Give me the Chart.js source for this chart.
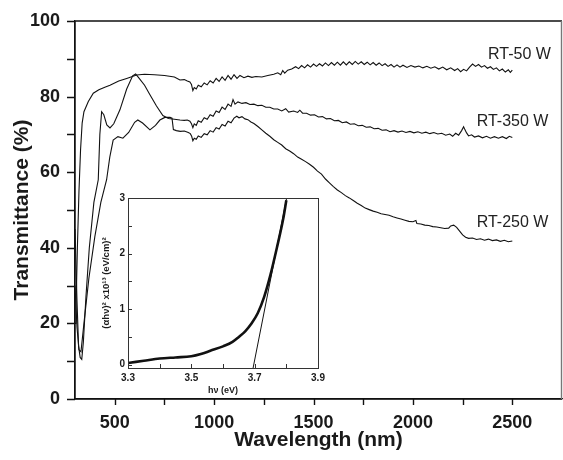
<!DOCTYPE html>
<html>
<head>
<meta charset="utf-8">
<script src="https://cdn.jsdelivr.net/npm/chart.js@4.4.1/dist/chart.umd.min.js"></script>
<style>
body { margin: 0; background: #fff; }
#wrap { position: relative; width: 563px; height: 460px; }
#wrap canvas { position: absolute; left: 0; top: 0; }
</style>
</head>
<body>
<div id="wrap">
<canvas id="main" width="563" height="460"></canvas>
<canvas id="inset" width="563" height="460"></canvas>
</div>
<script>
// [wavelength nm, transmittance %]
const rt50 = [
  [300,20],[305,24],[312,40],[320,55],[328,66],[336,73],[345,76],[367,78.7],[392,80.9],[420,81.8],
  [450,82.5],[476,83],[520,84.1],[560,84.8],[610,85.7],[650,85.9],[700,85.8],[750,85.6],[800,85.2],
  [828,84.4],[850,84.5],[865,84.1],[878,83.9],[886,83.2],[893,81.6],[900,82.4],[910,82.0],[920,83.0],
  [935,82.6],[950,83.6],[965,83.1],[980,84.2],[995,83.6],[1010,84.8],[1025,84.0],[1040,85.2],[1055,84.3],
  [1070,85.6],[1085,84.6],[1100,85.8],[1115,84.8],[1130,85.6],[1150,85.0],[1170,85.4],[1190,85.1],
  [1210,85.3],[1240,85.2],[1270,85.6],[1300,85.9],[1320,86.3],[1335,85.8],[1345,86.9],[1355,86.2],
  [1370,87.0],[1390,87.3],[1410,87.9],[1425,87.4],[1440,88.2],[1455,87.6],[1470,88.4],[1485,87.8],
  [1500,88.6],[1515,88.0],[1530,88.7],[1545,88.1],[1560,88.9],[1575,88.2],[1590,89.0],[1605,88.3],
  [1620,89.1],[1635,88.3],[1650,89.2],[1665,88.4],[1680,89.2],[1695,88.5],[1710,89.3],[1725,88.6],
  [1740,89.2],[1755,88.5],[1770,89.1],[1785,88.4],[1800,89.0],[1815,88.3],[1830,88.9],[1845,88.2],
  [1860,88.7],[1875,88.0],[1890,88.5],[1905,87.8],[1920,88.4],[1935,87.8],[1950,88.3],[1970,87.7],
  [1990,88.2],[2010,87.8],[2030,88.1],[2050,87.6],[2070,88.0],[2090,87.5],[2110,87.9],[2130,87.3],
  [2150,87.8],[2170,87.1],[2190,87.6],[2210,86.9],[2225,87.4],[2240,86.6],[2255,87.2],[2270,86.8],
  [2285,87.8],[2300,88.6],[2315,88.0],[2330,88.5],[2345,87.8],[2360,88.2],[2375,87.5],[2390,87.9],
  [2405,87.2],[2420,87.6],[2435,86.8],[2450,87.3],[2465,86.5],[2480,87.1],[2490,86.4],[2500,87.0]
];
const rt350 = [
  [300,45],[310,26],[318,14],[326,11],[334,10.5],[342,15],[355,27],[372,40],[395,52],[417,58],
  [425,70],[434,76],[445,75.2],[460,72.5],[476,71.7],[495,72.8],[526,76.5],[560,82],[590,85.5],
  [605,86],[620,85],[650,83],[677,80.5],[710,77.5],[742,75],[770,74.2],[800,74],[828,73.8],[850,73.7],
  [865,73.8],[878,73.5],[886,72.8],[893,71.8],[900,72.8],[910,72.4],[920,73.6],[935,73.2],[950,74.4],
  [965,74.0],[980,75.2],[995,74.8],[1010,76.2],[1025,75.8],[1040,77.2],[1055,76.6],[1070,78.0],
  [1085,77.4],[1095,79.2],[1105,78.0],[1120,78.6],[1140,78.2],[1160,78.4],[1180,77.9],[1200,78.0],
  [1220,77.6],[1240,77.7],[1260,77.2],[1280,77.2],[1300,76.7],[1320,76.7],[1340,76.2],[1360,76.8],
  [1375,75.9],[1400,76.2],[1420,75.8],[1431,76.4],[1445,75.6],[1465,75.6],[1485,75.1],[1505,75.2],
  [1525,74.6],[1545,74.7],[1565,74.1],[1585,74.2],[1605,73.6],[1625,73.7],[1645,73.1],[1665,73.3],
  [1685,72.7],[1705,72.8],[1725,72.3],[1745,72.4],[1765,71.9],[1785,72.0],[1805,71.5],[1825,71.6],
  [1845,71.1],[1865,71.2],[1885,70.7],[1905,71.0],[1925,70.6],[1945,70.9],[1965,70.5],[1985,70.8],
  [2005,70.4],[2025,70.7],[2045,70.3],[2065,70.6],[2085,70.2],[2105,70.5],[2125,70.1],[2145,70.3],
  [2165,69.8],[2185,70.1],[2200,69.5],[2215,70.3],[2230,69.8],[2245,71.0],[2255,72.0],[2262,71.2],
  [2270,70.4],[2280,69.6],[2295,69.9],[2310,69.3],[2330,69.6],[2350,69.1],[2370,69.5],[2390,69.0],
  [2410,69.4],[2430,69.0],[2450,69.4],[2470,68.9],[2485,69.5],[2500,69.2]
];
const rt250 = [
  [300,30],[310,19],[320,13],[330,12.5],[345,20],[370,32],[400,43],[430,52],[459,58],[475,64],
  [492,68.5],[516,69.4],[541,69],[570,70.5],[600,73.2],[616,73.8],[640,73],[677,71.2],[705,72.4],
  [727,73.8],[752,74.5],[778,74.5],[788,74.3],[795,71.3],[810,71.0],[830,70.8],[850,70.9],[870,70.5],
  [880,70.2],[887,69.5],[893,68.3],[900,69.0],[910,68.7],[920,69.6],[935,69.2],[950,70.2],[965,69.9],
  [980,71.0],[995,70.6],[1010,71.8],[1025,71.4],[1040,72.6],[1055,72.2],[1070,73.5],[1085,73.1],
  [1100,74.3],[1114,74.8],[1125,74.4],[1140,74.7],[1155,74.1],[1170,73.9],[1185,73.3],[1200,72.9],
  [1220,72.1],[1240,71.2],[1260,70.3],[1280,69.5],[1300,68.6],[1320,67.9],[1340,67.2],[1360,66.2],
  [1380,65.6],[1400,64.9],[1420,64.0],[1440,63.4],[1460,62.8],[1480,62.1],[1500,61.3],[1520,60.3],
  [1540,59.5],[1560,58.2],[1580,57.2],[1600,56.2],[1620,55.3],[1640,54.6],[1660,53.8],[1680,53.2],
  [1700,52.5],[1720,51.8],[1740,51.2],[1760,50.5],[1780,50.1],[1800,49.7],[1820,49.4],[1840,49.0],
  [1860,48.8],[1880,48.6],[1900,48.2],[1920,47.9],[1940,47.6],[1960,47.3],[1980,47.0],[2000,46.9],
  [2015,47.2],[2020,46.4],[2040,46.3],[2060,46.0],[2080,45.9],[2100,45.6],[2120,45.5],[2140,45.3],
  [2160,45.1],[2180,45.2],[2190,45.8],[2205,46.0],[2220,45.4],[2235,44.4],[2250,43.4],[2265,42.8],
  [2280,42.5],[2300,42.6],[2320,42.2],[2340,42.4],[2360,42.0],[2380,42.3],[2400,41.9],[2420,42.1],
  [2440,41.7],[2460,42.0],[2480,41.6],[2500,41.8]
];
const seriesNames = ["RT-50 W", "RT-350 W", "RT-250 W"];
const wavelengthTicks = [500, 750, 1000, 1250, 1500, 1750, 2000, 2250, 2500];
const transTicks = [0, 10, 20, 30, 40, 50, 60, 70, 80, 90, 100];

// inset: Tauc plot
const hvEV =  [3.30,3.35,3.40,3.45,3.50,3.53,3.56,3.60,3.63,3.65,3.67,3.69,3.71,3.73,3.75,3.77,3.79,3.80];
const ahv2 =  [0.03,0.07,0.11,0.13,0.15,0.19,0.25,0.33,0.41,0.50,0.60,0.74,0.93,1.22,1.62,2.10,2.62,2.96];
const fitHv = [3.695, 3.801];
const fitY  = [-0.06, 3.0];
const hvTicks = [3.3, 3.5, 3.7, 3.9];
const hvMinor = [3.3, 3.4, 3.5, 3.6, 3.7, 3.8, 3.9];
const yTicksInset = [0, 1, 2, 3];
const yMinorInset = [0, 0.5, 1, 1.5, 2, 2.5, 3];

const FONT = "'Liberation Sans', Arial, sans-serif";
Chart.defaults.font.family = FONT;
Chart.defaults.color = "#1a1a1a";

const toXY = arr => arr.map(p => ({ x: p[0], y: p[1] }));

const mainPlugin = {
  id: "mainFrame",
  afterDraw(chart) {
    const { ctx, scales } = chart;
    const x0 = scales.x.getPixelForValue(300), x1 = scales.x.getPixelForValue(2750);
    const y0 = scales.y.getPixelForValue(0), y1 = scales.y.getPixelForValue(100);
    ctx.save();
    ctx.strokeStyle = "#111";
    ctx.lineWidth = 1.4;
    ctx.beginPath();
    ctx.moveTo(x0, y1);
    ctx.lineTo(x1, y1);
    ctx.moveTo(x0 - 1, y0);
    ctx.lineTo(x1, y0);
    ctx.moveTo(x0, y1);
    ctx.lineTo(x0, y0);
    // outward tick marks
    wavelengthTicks.forEach(v => {
      const x = Math.round(scales.x.getPixelForValue(v)) + 0.5;
      ctx.moveTo(x, y0);
      ctx.lineTo(x, y0 + 6);
    });
    transTicks.forEach(v => {
      const y = Math.round(scales.y.getPixelForValue(v)) + 0.5;
      ctx.moveTo(x0, y);
      ctx.lineTo(x0 - 8, y);
    });
    ctx.stroke();
    ctx.strokeStyle = "#777";
    ctx.beginPath();
    ctx.moveTo(x1 - 0.5, y1);
    ctx.lineTo(x1 - 0.5, y0);
    ctx.stroke();
    // series labels
    const spots = [[2536, 91], [2501, 73.3], [2501, 46.6]];
    ctx.fillStyle = "#222";
    ctx.font = "16px " + FONT;
    ctx.textAlign = "center";
    ctx.textBaseline = "middle";
    seriesNames.forEach((name, i) => {
      ctx.fillText(name, scales.x.getPixelForValue(spots[i][0]), scales.y.getPixelForValue(spots[i][1]));
    });
    ctx.restore();
  }
};

new Chart(document.getElementById("main"), {
  type: "line",
  data: {
    datasets: [rt50, rt350, rt250].map((s, i) => ({
      label: seriesNames[i],
      data: toXY(s),
      borderColor: "#111",
      borderWidth: 1.1,
      pointRadius: 0,
      tension: 0,
      fill: false
    }))
  },
  options: {
    responsive: false,
    animation: false,
    devicePixelRatio: 1,
    layout: { padding: { top: 21, right: 1, left: 0, bottom: 0 } },
    plugins: { legend: { display: false }, tooltip: { enabled: false } },
    scales: {
      x: {
        type: "linear",
        min: 300,
        max: 2750,
        afterFit(s) { s.height = 61; },
        afterBuildTicks(s) { s.ticks = wavelengthTicks.map(v => ({ value: v })); },
        grid: { display: true, drawOnChartArea: false, drawTicks: true, tickLength: 6, color: "rgba(0,0,0,0)" },
        border: { display: true, color: "#111", width: 1.2 },
        ticks: {
          autoSkip: false, maxRotation: 0, padding: 7, color: "#1a1a1a",
          font: { size: 18, weight: "bold" },
          callback: v => (v % 500 === 0 ? String(v) : "")
        },
        title: {
          display: true, text: "Wavelength (nm)", color: "#1a1a1a",
          font: { size: 21, weight: "bold" }, padding: { top: 0, bottom: 7.5 }
        }
      },
      y: {
        min: 0,
        max: 100,
        afterFit(s) { s.width = 75; },
        afterBuildTicks(s) { s.ticks = transTicks.map(v => ({ value: v })); },
        grid: { display: true, drawOnChartArea: false, drawTicks: true, tickLength: 8, color: "rgba(0,0,0,0)" },
        border: { display: true, color: "#111", width: 1.2 },
        ticks: {
          autoSkip: false, padding: 7, color: "#1a1a1a",
          font: { size: 18, weight: "bold" },
          callback: v => (v % 20 === 0 ? String(v) : "")
        },
        title: {
          display: true, text: "Transmittance (%)", color: "#1a1a1a",
          font: { size: 21, weight: "bold" }, padding: { top: 9.5, bottom: 0 }
        }
      }
    }
  },
  plugins: [mainPlugin]
});

const insetPlugin = {
  id: "insetFrame",
  afterDraw(chart) {
    const { ctx, chartArea: a, scales } = chart;
    ctx.save();
    ctx.strokeStyle = "#333";
    ctx.lineWidth = 1;
    ctx.strokeRect(a.left + 0.5, a.top + 0.5, a.right - a.left, a.bottom - a.top);
    ctx.beginPath();
    hvMinor.forEach(v => {
      const x = Math.round(scales.x.getPixelForValue(v)) + 0.5;
      ctx.moveTo(x, a.bottom);
      ctx.lineTo(x, a.bottom - 4);
    });
    yMinorInset.forEach(v => {
      const y = Math.round(scales.y.getPixelForValue(v)) + 0.5;
      ctx.moveTo(a.left, y);
      ctx.lineTo(a.left + 4, y);
    });
    ctx.stroke();
    ctx.restore();
  }
};

new Chart(document.getElementById("inset"), {
  type: "line",
  data: {
    datasets: [
      {
        data: hvEV.map((v, i) => ({ x: v, y: ahv2[i] })),
        borderColor: "#111",
        borderWidth: 2.6,
        pointRadius: 0,
        cubicInterpolationMode: "monotone",
        fill: false
      },
      {
        data: fitHv.map((v, i) => ({ x: v, y: fitY[i] })),
        borderColor: "#111",
        borderWidth: 1,
        pointRadius: 0,
        fill: false
      }
    ]
  },
  options: {
    responsive: false,
    animation: false,
    devicePixelRatio: 1,
    layout: { padding: { top: 198, right: 245, left: 100, bottom: 62 } },
    plugins: { legend: { display: false }, tooltip: { enabled: false } },
    scales: {
      x: {
        type: "linear",
        min: 3.3,
        max: 3.9,
        afterFit(s) { s.height = 30; },
        afterBuildTicks(s) { s.ticks = hvTicks.map(v => ({ value: v })); },
        grid: { display: false, drawTicks: false },
        border: { display: false },
        ticks: {
          autoSkip: false, maxRotation: 0, padding: 4, color: "#1a1a1a",
          font: { size: 10, weight: "bold" },
          callback: v => v.toFixed(1)
        },
        title: {
          display: true, text: "hν (eV)", color: "#1a1a1a",
          font: { size: 9, weight: "bold" }, padding: { top: 0, bottom: 2.5 }
        }
      },
      y: {
        min: -0.06,
        max: 3,
        afterFit(s) { s.width = 28; },
        afterBuildTicks(s) { s.ticks = yTicksInset.map(v => ({ value: v })); },
        grid: { display: false, drawTicks: false },
        border: { display: false },
        ticks: {
          autoSkip: false, padding: 3, color: "#1a1a1a",
          font: { size: 10, weight: "bold" },
          callback: v => String(v)
        },
        title: {
          display: true, text: "(αhν)² x10¹³ (eV/cm)²", color: "#1a1a1a",
          font: { size: 9.5, weight: "bold" }, padding: { top: 0.5, bottom: 0 }
        }
      }
    }
  },
  plugins: [insetPlugin]
});
</script>
</body>
</html>
